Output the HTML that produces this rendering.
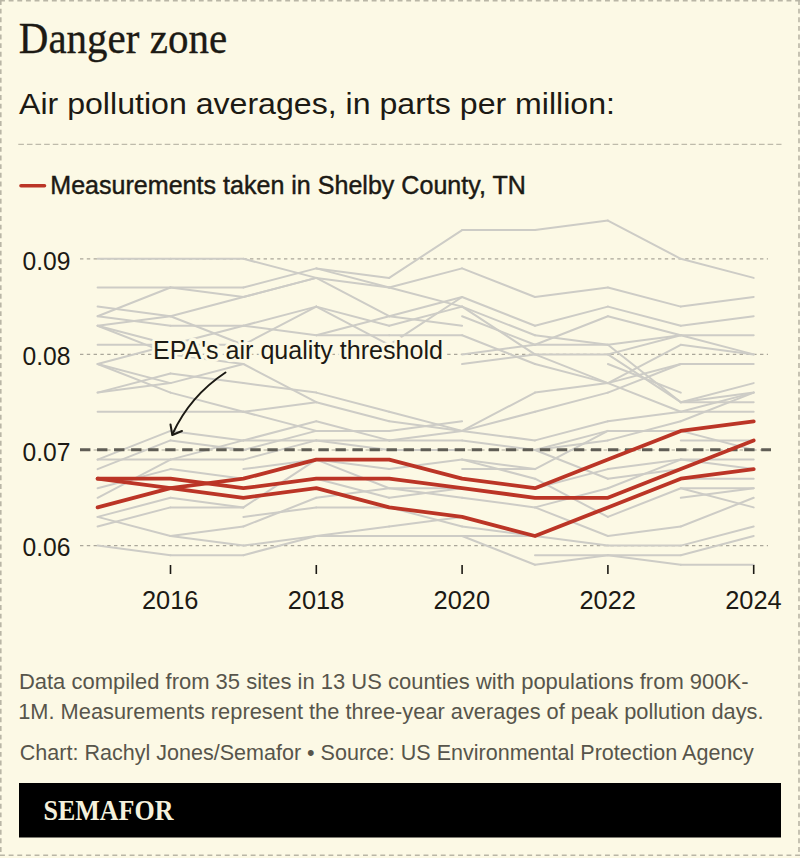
<!DOCTYPE html>
<html><head><meta charset="utf-8"><style>
html,body{margin:0;padding:0;background:#FCF9E5;}
body{width:800px;height:858px;overflow:hidden;position:relative;}
svg{position:absolute;left:0;top:0;display:block;}
</style></head><body>
<svg width="800" height="858" viewBox="0 0 800 858">
<rect x="0" y="0" width="800" height="858" fill="#FCF9E5"/>
<!-- outer dashed border -->
<g stroke="#b9b6a6" stroke-width="1.6" stroke-dasharray="4.9 3.743" fill="none">
<line x1="0" y1="0.8" x2="800" y2="0.8"/>
<line x1="0.8" y1="0" x2="0.8" y2="856"/>
<line x1="799" y1="0" x2="799" y2="856"/>
<line x1="0" y1="855.2" x2="800" y2="855.2"/>
</g>
<!-- title -->
<text x="18.8" y="53" font-family="Liberation Serif" font-size="44.5" fill="#1c1a14" stroke="#1c1a14" stroke-width="0.35" textLength="208.3" lengthAdjust="spacingAndGlyphs">Danger zone</text>
<text x="19" y="114" font-family="Liberation Sans" font-size="30" fill="#1c1a14" textLength="596" lengthAdjust="spacingAndGlyphs">Air pollution averages, in parts per million:</text>
<line x1="18.3" y1="144.4" x2="781.5" y2="144.4" stroke="#bebbab" stroke-width="1.3" stroke-dasharray="5.6 3.013"/>
<!-- legend -->
<line x1="21" y1="185.8" x2="44.5" y2="185.8" stroke="#bb3526" stroke-width="3.6" stroke-linecap="round"/>
<text x="50.3" y="194.3" font-family="Liberation Sans" font-size="25.5" fill="#1c1a14" stroke="#1c1a14" stroke-width="0.45" textLength="475.5" lengthAdjust="spacingAndGlyphs">Measurements taken in Shelby County, TN</text>
<!-- gridlines -->
<g stroke="#aaa79a" stroke-width="1.2" stroke-dasharray="3.4 3.4" fill="none">
<line x1="80" y1="258.8" x2="768" y2="258.8"/>
<line x1="80" y1="450.0" x2="768" y2="450.0"/>
<line x1="80" y1="354.4" x2="768" y2="354.4"/>
<line x1="80" y1="545.6" x2="768" y2="545.6"/>
</g>
<!-- y labels -->
<g font-family="Liberation Sans" font-size="26" fill="#1c1a14">
<text x="22.5" y="269.5" textLength="48" lengthAdjust="spacingAndGlyphs">0.09</text>
<text x="22.5" y="365" textLength="48" lengthAdjust="spacingAndGlyphs">0.08</text>
<text x="22.5" y="460.5" textLength="48" lengthAdjust="spacingAndGlyphs">0.07</text>
<text x="22.5" y="556.2" textLength="48" lengthAdjust="spacingAndGlyphs">0.06</text>
</g>
<!-- gray lines -->
<g stroke="#cdccc6" stroke-width="2" stroke-linecap="round" fill="none">
<line x1="97.6" y1="258.8" x2="170.5" y2="258.8"/>
<line x1="97.6" y1="287.5" x2="170.5" y2="287.5"/>
<line x1="97.6" y1="316.2" x2="170.5" y2="287.5"/>
<line x1="97.6" y1="306.6" x2="170.5" y2="316.2"/>
<line x1="97.6" y1="316.2" x2="170.5" y2="325.7"/>
<line x1="97.6" y1="325.7" x2="170.5" y2="316.2"/>
<line x1="97.6" y1="325.7" x2="170.5" y2="344.8"/>
<line x1="97.6" y1="325.7" x2="170.5" y2="354.4"/>
<line x1="97.6" y1="344.8" x2="170.5" y2="344.8"/>
<line x1="97.6" y1="364.0" x2="170.5" y2="344.8"/>
<line x1="97.6" y1="364.0" x2="170.5" y2="383.1"/>
<line x1="97.6" y1="364.0" x2="170.5" y2="392.6"/>
<line x1="97.6" y1="392.6" x2="170.5" y2="373.5"/>
<line x1="97.6" y1="392.6" x2="170.5" y2="383.1"/>
<line x1="97.6" y1="411.8" x2="170.5" y2="411.8"/>
<line x1="97.6" y1="459.6" x2="170.5" y2="430.9"/>
<line x1="97.6" y1="469.1" x2="170.5" y2="440.4"/>
<line x1="97.6" y1="459.6" x2="170.5" y2="459.6"/>
<line x1="97.6" y1="488.2" x2="170.5" y2="469.1"/>
<line x1="97.6" y1="497.8" x2="170.5" y2="459.6"/>
<line x1="97.6" y1="516.9" x2="170.5" y2="497.8"/>
<line x1="97.6" y1="526.5" x2="170.5" y2="507.4"/>
<line x1="97.6" y1="516.9" x2="170.5" y2="536.0"/>
<line x1="97.6" y1="545.6" x2="170.5" y2="555.2"/>
<line x1="170.5" y1="258.8" x2="243.4" y2="258.8"/>
<line x1="170.5" y1="287.5" x2="243.4" y2="287.5"/>
<line x1="170.5" y1="287.5" x2="243.4" y2="297.0"/>
<line x1="170.5" y1="316.2" x2="243.4" y2="297.0"/>
<line x1="170.5" y1="325.7" x2="243.4" y2="325.7"/>
<line x1="170.5" y1="316.2" x2="243.4" y2="344.8"/>
<line x1="170.5" y1="344.8" x2="243.4" y2="325.7"/>
<line x1="170.5" y1="344.8" x2="243.4" y2="344.8"/>
<line x1="170.5" y1="354.4" x2="243.4" y2="364.0"/>
<line x1="170.5" y1="373.5" x2="243.4" y2="383.1"/>
<line x1="170.5" y1="383.1" x2="243.4" y2="364.0"/>
<line x1="170.5" y1="392.6" x2="243.4" y2="411.8"/>
<line x1="170.5" y1="411.8" x2="243.4" y2="411.8"/>
<line x1="170.5" y1="430.9" x2="243.4" y2="440.4"/>
<line x1="170.5" y1="440.4" x2="243.4" y2="450.0"/>
<line x1="170.5" y1="459.6" x2="243.4" y2="440.4"/>
<line x1="170.5" y1="459.6" x2="243.4" y2="459.6"/>
<line x1="170.5" y1="469.1" x2="243.4" y2="478.7"/>
<line x1="170.5" y1="497.8" x2="243.4" y2="507.4"/>
<line x1="170.5" y1="507.4" x2="243.4" y2="507.4"/>
<line x1="170.5" y1="536.0" x2="243.4" y2="526.5"/>
<line x1="170.5" y1="536.0" x2="243.4" y2="545.6"/>
<line x1="170.5" y1="555.2" x2="243.4" y2="555.2"/>
<line x1="243.4" y1="258.8" x2="316.3" y2="277.9"/>
<line x1="243.4" y1="287.5" x2="316.3" y2="268.4"/>
<line x1="243.4" y1="297.0" x2="316.3" y2="277.9"/>
<line x1="243.4" y1="297.0" x2="316.3" y2="277.9"/>
<line x1="243.4" y1="325.7" x2="316.3" y2="306.6"/>
<line x1="243.4" y1="325.7" x2="316.3" y2="335.3"/>
<line x1="243.4" y1="344.8" x2="316.3" y2="306.6"/>
<line x1="243.4" y1="364.0" x2="316.3" y2="402.2"/>
<line x1="243.4" y1="383.1" x2="316.3" y2="392.6"/>
<line x1="243.4" y1="411.8" x2="316.3" y2="402.2"/>
<line x1="243.4" y1="411.8" x2="316.3" y2="430.9"/>
<line x1="243.4" y1="440.4" x2="316.3" y2="421.3"/>
<line x1="243.4" y1="440.4" x2="316.3" y2="440.4"/>
<line x1="243.4" y1="450.0" x2="316.3" y2="430.9"/>
<line x1="243.4" y1="459.6" x2="316.3" y2="440.4"/>
<line x1="243.4" y1="469.1" x2="316.3" y2="459.6"/>
<line x1="243.4" y1="507.4" x2="316.3" y2="459.6"/>
<line x1="243.4" y1="516.9" x2="316.3" y2="507.4"/>
<line x1="243.4" y1="526.5" x2="316.3" y2="497.8"/>
<line x1="243.4" y1="545.6" x2="316.3" y2="536.0"/>
<line x1="243.4" y1="555.2" x2="316.3" y2="536.0"/>
<line x1="316.3" y1="268.4" x2="389.2" y2="277.9"/>
<line x1="316.3" y1="268.4" x2="389.2" y2="287.5"/>
<line x1="316.3" y1="277.9" x2="389.2" y2="287.5"/>
<line x1="316.3" y1="277.9" x2="389.2" y2="316.2"/>
<line x1="316.3" y1="306.6" x2="389.2" y2="325.7"/>
<line x1="316.3" y1="306.6" x2="389.2" y2="344.8"/>
<line x1="316.3" y1="335.3" x2="389.2" y2="316.2"/>
<line x1="316.3" y1="335.3" x2="389.2" y2="335.3"/>
<line x1="316.3" y1="392.6" x2="389.2" y2="411.8"/>
<line x1="316.3" y1="402.2" x2="389.2" y2="421.3"/>
<line x1="316.3" y1="421.3" x2="389.2" y2="440.4"/>
<line x1="316.3" y1="430.9" x2="389.2" y2="430.9"/>
<line x1="316.3" y1="440.4" x2="389.2" y2="440.4"/>
<line x1="316.3" y1="440.4" x2="389.2" y2="450.0"/>
<line x1="316.3" y1="459.6" x2="389.2" y2="469.1"/>
<line x1="316.3" y1="459.6" x2="389.2" y2="488.2"/>
<line x1="316.3" y1="497.8" x2="389.2" y2="488.2"/>
<line x1="316.3" y1="478.7" x2="389.2" y2="497.8"/>
<line x1="316.3" y1="507.4" x2="389.2" y2="507.4"/>
<line x1="316.3" y1="536.0" x2="389.2" y2="526.5"/>
<line x1="316.3" y1="536.0" x2="389.2" y2="536.0"/>
<line x1="389.2" y1="277.9" x2="462.1" y2="230.1"/>
<line x1="389.2" y1="287.5" x2="462.1" y2="268.4"/>
<line x1="389.2" y1="287.5" x2="462.1" y2="306.6"/>
<line x1="389.2" y1="316.2" x2="462.1" y2="297.0"/>
<line x1="389.2" y1="325.7" x2="462.1" y2="306.6"/>
<line x1="389.2" y1="316.2" x2="462.1" y2="325.7"/>
<line x1="389.2" y1="344.8" x2="462.1" y2="297.0"/>
<line x1="389.2" y1="335.3" x2="462.1" y2="335.3"/>
<line x1="389.2" y1="411.8" x2="462.1" y2="430.9"/>
<line x1="389.2" y1="421.3" x2="462.1" y2="430.9"/>
<line x1="389.2" y1="430.9" x2="462.1" y2="421.3"/>
<line x1="389.2" y1="440.4" x2="462.1" y2="430.9"/>
<line x1="389.2" y1="440.4" x2="462.1" y2="440.4"/>
<line x1="389.2" y1="450.0" x2="462.1" y2="450.0"/>
<line x1="389.2" y1="469.1" x2="462.1" y2="459.6"/>
<line x1="389.2" y1="488.2" x2="462.1" y2="488.2"/>
<line x1="389.2" y1="497.8" x2="462.1" y2="488.2"/>
<line x1="389.2" y1="507.4" x2="462.1" y2="526.5"/>
<line x1="389.2" y1="526.5" x2="462.1" y2="516.9"/>
<line x1="389.2" y1="536.0" x2="462.1" y2="536.0"/>
<line x1="389.2" y1="488.2" x2="462.1" y2="497.8"/>
<line x1="462.1" y1="230.1" x2="535.0" y2="230.1"/>
<line x1="462.1" y1="268.4" x2="535.0" y2="297.0"/>
<line x1="462.1" y1="297.0" x2="535.0" y2="325.7"/>
<line x1="462.1" y1="306.6" x2="535.0" y2="335.3"/>
<line x1="462.1" y1="306.6" x2="535.0" y2="354.4"/>
<line x1="462.1" y1="316.2" x2="535.0" y2="344.8"/>
<line x1="462.1" y1="335.3" x2="535.0" y2="364.0"/>
<line x1="462.1" y1="354.4" x2="535.0" y2="344.8"/>
<line x1="462.1" y1="364.0" x2="535.0" y2="354.4"/>
<line x1="462.1" y1="430.9" x2="535.0" y2="392.6"/>
<line x1="462.1" y1="430.9" x2="535.0" y2="411.8"/>
<line x1="462.1" y1="430.9" x2="535.0" y2="440.4"/>
<line x1="462.1" y1="440.4" x2="535.0" y2="450.0"/>
<line x1="462.1" y1="459.6" x2="535.0" y2="469.1"/>
<line x1="462.1" y1="469.1" x2="535.0" y2="469.1"/>
<line x1="462.1" y1="459.6" x2="535.0" y2="478.7"/>
<line x1="462.1" y1="497.8" x2="535.0" y2="507.4"/>
<line x1="462.1" y1="526.5" x2="535.0" y2="536.0"/>
<line x1="462.1" y1="536.0" x2="535.0" y2="536.0"/>
<line x1="462.1" y1="536.0" x2="535.0" y2="564.7"/>
<line x1="535.0" y1="230.1" x2="607.9" y2="220.6"/>
<line x1="535.0" y1="297.0" x2="607.9" y2="287.5"/>
<line x1="535.0" y1="325.7" x2="607.9" y2="306.6"/>
<line x1="535.0" y1="344.8" x2="607.9" y2="316.2"/>
<line x1="535.0" y1="335.3" x2="607.9" y2="344.8"/>
<line x1="535.0" y1="344.8" x2="607.9" y2="344.8"/>
<line x1="535.0" y1="354.4" x2="607.9" y2="354.4"/>
<line x1="535.0" y1="354.4" x2="607.9" y2="383.1"/>
<line x1="535.0" y1="364.0" x2="607.9" y2="383.1"/>
<line x1="535.0" y1="392.6" x2="607.9" y2="383.1"/>
<line x1="535.0" y1="411.8" x2="607.9" y2="392.6"/>
<line x1="535.0" y1="440.4" x2="607.9" y2="421.3"/>
<line x1="535.0" y1="450.0" x2="607.9" y2="430.9"/>
<line x1="535.0" y1="450.0" x2="607.9" y2="440.4"/>
<line x1="535.0" y1="469.1" x2="607.9" y2="430.9"/>
<line x1="535.0" y1="450.0" x2="607.9" y2="478.7"/>
<line x1="535.0" y1="478.7" x2="607.9" y2="516.9"/>
<line x1="535.0" y1="488.2" x2="607.9" y2="469.1"/>
<line x1="535.0" y1="507.4" x2="607.9" y2="488.2"/>
<line x1="535.0" y1="507.4" x2="607.9" y2="536.0"/>
<line x1="535.0" y1="536.0" x2="607.9" y2="545.6"/>
<line x1="535.0" y1="564.7" x2="607.9" y2="555.2"/>
<line x1="535.0" y1="555.2" x2="607.9" y2="555.2"/>
<line x1="607.9" y1="220.6" x2="680.8" y2="258.8"/>
<line x1="607.9" y1="287.5" x2="680.8" y2="306.6"/>
<line x1="607.9" y1="306.6" x2="680.8" y2="325.7"/>
<line x1="607.9" y1="316.2" x2="680.8" y2="335.3"/>
<line x1="607.9" y1="344.8" x2="680.8" y2="335.3"/>
<line x1="607.9" y1="354.4" x2="680.8" y2="335.3"/>
<line x1="607.9" y1="354.4" x2="680.8" y2="402.2"/>
<line x1="607.9" y1="364.0" x2="680.8" y2="392.6"/>
<line x1="607.9" y1="383.1" x2="680.8" y2="364.0"/>
<line x1="607.9" y1="383.1" x2="680.8" y2="344.8"/>
<line x1="607.9" y1="392.6" x2="680.8" y2="364.0"/>
<line x1="607.9" y1="344.8" x2="680.8" y2="402.2"/>
<line x1="607.9" y1="383.1" x2="680.8" y2="411.8"/>
<line x1="607.9" y1="421.3" x2="680.8" y2="411.8"/>
<line x1="607.9" y1="430.9" x2="680.8" y2="430.9"/>
<line x1="607.9" y1="440.4" x2="680.8" y2="421.3"/>
<line x1="607.9" y1="469.1" x2="680.8" y2="459.6"/>
<line x1="607.9" y1="478.7" x2="680.8" y2="469.1"/>
<line x1="607.9" y1="488.2" x2="680.8" y2="459.6"/>
<line x1="607.9" y1="516.9" x2="680.8" y2="488.2"/>
<line x1="607.9" y1="536.0" x2="680.8" y2="526.5"/>
<line x1="607.9" y1="545.6" x2="680.8" y2="545.6"/>
<line x1="607.9" y1="555.2" x2="680.8" y2="555.2"/>
<line x1="607.9" y1="555.2" x2="680.8" y2="564.7"/>
<line x1="680.8" y1="258.8" x2="753.7" y2="277.9"/>
<line x1="680.8" y1="306.6" x2="753.7" y2="297.0"/>
<line x1="680.8" y1="325.7" x2="753.7" y2="316.2"/>
<line x1="680.8" y1="335.3" x2="753.7" y2="335.3"/>
<line x1="680.8" y1="335.3" x2="753.7" y2="354.4"/>
<line x1="680.8" y1="344.8" x2="753.7" y2="354.4"/>
<line x1="680.8" y1="364.0" x2="753.7" y2="364.0"/>
<line x1="680.8" y1="402.2" x2="753.7" y2="383.1"/>
<line x1="680.8" y1="402.2" x2="753.7" y2="392.6"/>
<line x1="680.8" y1="402.2" x2="753.7" y2="402.2"/>
<line x1="680.8" y1="411.8" x2="753.7" y2="392.6"/>
<line x1="680.8" y1="411.8" x2="753.7" y2="411.8"/>
<line x1="680.8" y1="421.3" x2="753.7" y2="392.6"/>
<line x1="680.8" y1="440.4" x2="753.7" y2="440.4"/>
<line x1="680.8" y1="430.9" x2="753.7" y2="450.0"/>
<line x1="680.8" y1="459.6" x2="753.7" y2="459.6"/>
<line x1="680.8" y1="459.6" x2="753.7" y2="469.1"/>
<line x1="680.8" y1="478.7" x2="753.7" y2="478.7"/>
<line x1="680.8" y1="488.2" x2="753.7" y2="488.2"/>
<line x1="680.8" y1="488.2" x2="753.7" y2="507.4"/>
<line x1="680.8" y1="497.8" x2="753.7" y2="488.2"/>
<line x1="680.8" y1="526.5" x2="753.7" y2="497.8"/>
<line x1="680.8" y1="545.6" x2="753.7" y2="526.5"/>
<line x1="680.8" y1="555.2" x2="753.7" y2="536.0"/>
<line x1="680.8" y1="564.7" x2="753.7" y2="564.7"/>
</g>
<!-- threshold -->
<line x1="80" y1="449.8" x2="771" y2="449.8" stroke="#5f5d55" stroke-width="3" stroke-dasharray="10.4 6.63"/>
<!-- red lines -->
<g stroke="#bb3526" stroke-width="3.8" stroke-linecap="round" stroke-linejoin="round" fill="none">
<polyline points="97.6,507.4 170.5,488.2 243.4,478.7 316.3,459.6 389.2,459.6 462.1,478.7 535.0,488.2 607.9,459.6 680.8,430.9 753.7,421.3"/>
<polyline points="97.6,478.7 170.5,478.7 243.4,488.2 316.3,478.7 389.2,478.7 462.1,488.2 535.0,497.8 607.9,497.8 680.8,469.1 753.7,440.4"/>
<polyline points="97.6,478.7 170.5,488.2 243.4,497.8 316.3,488.2 389.2,507.4 462.1,516.9 535.0,536.0 607.9,507.4 680.8,478.7 753.7,469.1"/>
</g>
<!-- annotation -->
<text x="153" y="359.1" font-family="Liberation Sans" font-size="25.5" fill="#1c1a14" stroke="#FCF9E5" stroke-width="6" paint-order="stroke" stroke-linejoin="round" textLength="290" lengthAdjust="spacingAndGlyphs">EPA's air quality threshold</text>
<path d="M225.5,372.5 Q190,396 172.5,434" stroke="#1c1a14" stroke-width="2" fill="none" stroke-linecap="round"/>
<path d="M170.5,424.5 L172.3,435 L182,431" stroke="#1c1a14" stroke-width="2" fill="none" stroke-linecap="round" stroke-linejoin="round"/>
<!-- x ticks -->
<g stroke="#1c1a14" stroke-width="1.6">
<line x1="170.5" y1="565" x2="170.5" y2="574"/>
<line x1="316.3" y1="565" x2="316.3" y2="574"/>
<line x1="462.1" y1="565" x2="462.1" y2="574"/>
<line x1="607.9" y1="565" x2="607.9" y2="574"/>
<line x1="753.7" y1="565" x2="753.7" y2="574"/>
</g>
<g font-family="Liberation Sans" font-size="26" fill="#1c1a14">
<text x="142.0" y="609" textLength="56.5" lengthAdjust="spacingAndGlyphs">2016</text>
<text x="287.8" y="609" textLength="56.5" lengthAdjust="spacingAndGlyphs">2018</text>
<text x="433.6" y="609" textLength="56.5" lengthAdjust="spacingAndGlyphs">2020</text>
<text x="579.4" y="609" textLength="56.5" lengthAdjust="spacingAndGlyphs">2022</text>
<text x="725.2" y="609" textLength="56.5" lengthAdjust="spacingAndGlyphs">2024</text>
</g>
<!-- notes -->
<g font-family="Liberation Sans" font-size="22" fill="#57554b">
<text x="18.9" y="689" textLength="729.6" lengthAdjust="spacingAndGlyphs">Data compiled from 35 sites in 13 US counties with populations from 900K-</text>
<text x="18.2" y="719" textLength="745.4" lengthAdjust="spacingAndGlyphs">1M. Measurements represent the three-year averages of peak pollution days.</text>
<text x="19.8" y="759.7" textLength="734.1" lengthAdjust="spacingAndGlyphs">Chart: Rachyl Jones/Semafor • Source: US Environmental Protection Agency</text>
</g>
<!-- footer bar -->
<rect x="19" y="783" width="762" height="54.5" fill="#000"/>
<text x="43.5" y="820" font-family="Liberation Serif" font-weight="bold" font-size="29.8" fill="#f5f1dc" textLength="130" lengthAdjust="spacingAndGlyphs">SEMAFOR</text>
</svg>
</body></html>
